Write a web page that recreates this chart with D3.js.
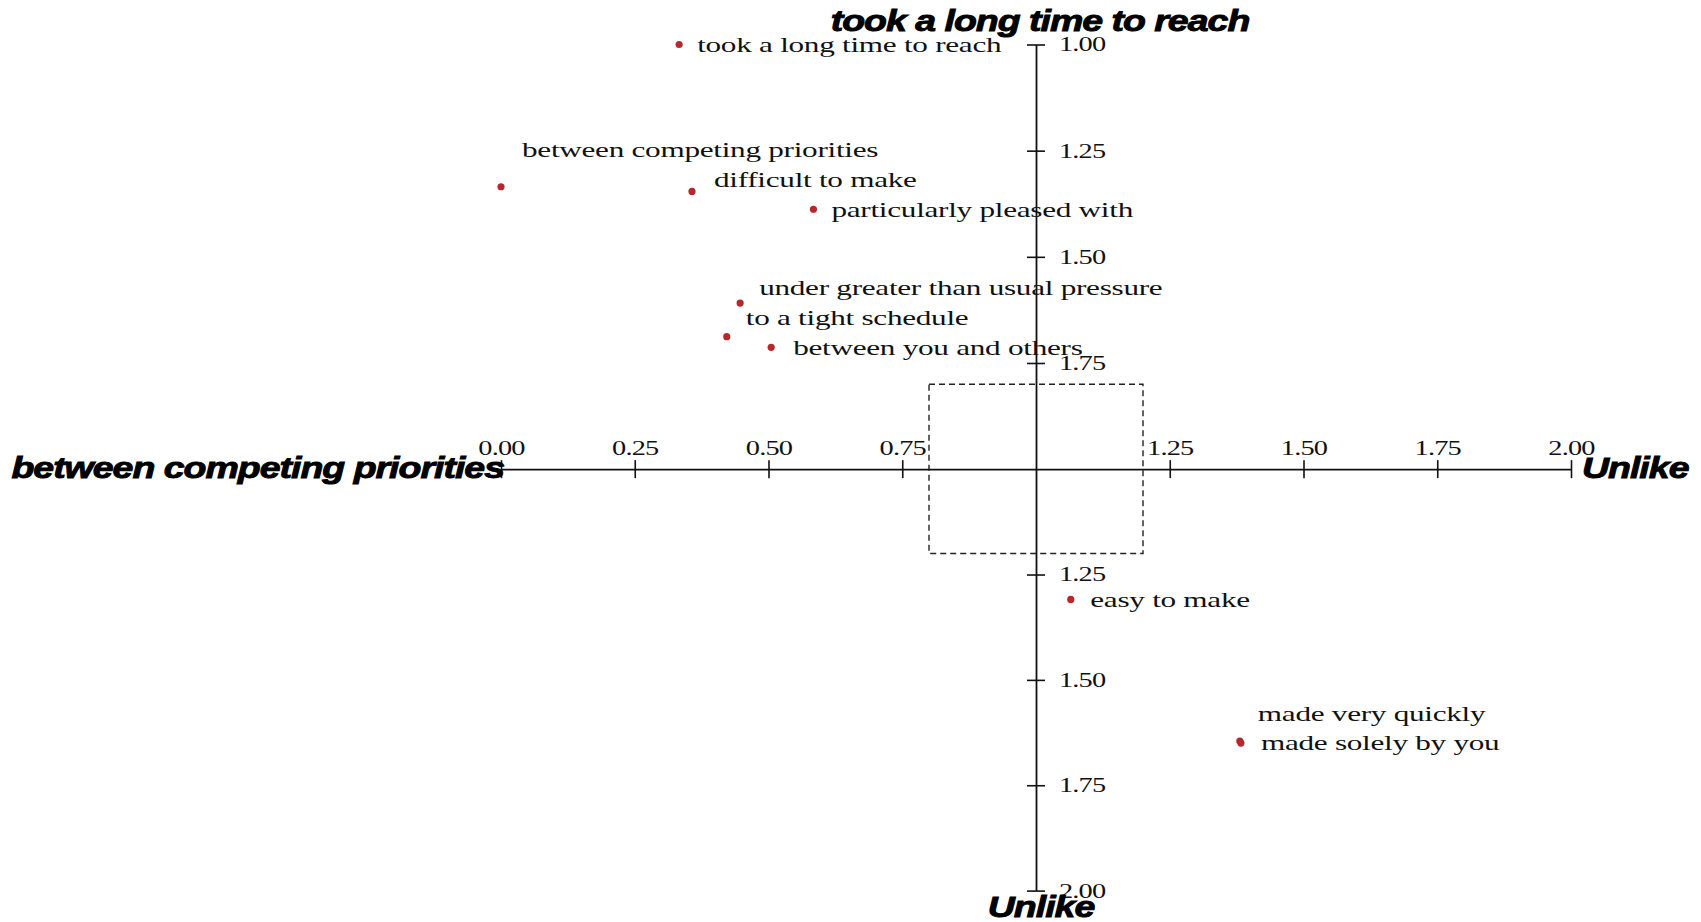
<!DOCTYPE html>
<html>
<head>
<meta charset="utf-8">
<script src="https://cdn.jsdelivr.net/npm/d3@7"></script>
<style>
  html, body { margin: 0; padding: 0; background: #fff; }
  svg { display: block; }
</style>
</head>
<body>
<svg id="chart" width="1701" height="922"></svg>
<script>
// ---- data -------------------------------------------------------------
const categories = [
  "took a long time to reach",
  "between competing priorities",
  "difficult to make",
  "particularly pleased with",
  "under greater than usual pressure",
  "to a tight schedule",
  "between you and others",
  "easy to make",
  "made very quickly",
  "made solely by you"
];
const xValues = [0.333, 0.00, 0.357, 0.584, 0.447, 0.422, 0.505, 1.065, 1.381, 1.383];
const yValues = [1.00, 1.335, 1.346, 1.388, 1.609, 1.688, 1.713, 1.309, 1.645, 1.650];
// which half of the vertical axis each item is measured on
const yHalf = ["top", "top", "top", "top", "top", "top", "top", "bottom", "bottom", "bottom"];

const xTickValues = [0, 0.25, 0.5, 0.75, 1, 1.25, 1.5, 1.75, 2];
const xTickLabels = ["0.00", "0.25", "0.50", "0.75", "", "1.25", "1.50", "1.75", "2.00"];
const yTopTickValues = [1, 1.25, 1.5, 1.75];
const yTopTickLabels = ["1.00", "1.25", "1.50", "1.75"];
const yBottomTickValues = [1.25, 1.5, 1.75, 2];
const yBottomTickLabels = ["1.25", "1.50", "1.75", "2.00"];

const poleTop = "took a long time to reach";
const poleBottom = "Unlike";
const poleLeft = "between competing priorities";
const poleRight = "Unlike";

// central neutral zone (x from..to, distance from centre on each vertical half)
const neutralX = [0.8, 1.2];
const neutralY = 1.2;

// ---- layout -----------------------------------------------------------
const W = 1701, H = 922;
const margin = { left: 501, right: 130, top: 44.5, bottom: 31.4 };
const stretch = 1.42;          // horizontal stretch of the serif labels
const labelFont = "'Liberation Serif', 'Times New Roman', serif";
const titleFont = "'Liberation Sans', Arial, sans-serif";
const dotColor = "#b5292d";

// label placement relative to each dot, in pixels
const labelOffsets = [
  [18, 0], [21, -37], [22, -12], [18, 0], [19, -15],
  [19, -18.5], [22, 0], [19.5, 0], [18, -27], [20, 0]
];

const svg = d3.select("#chart");
svg.append("rect").attr("width", W).attr("height", H).attr("fill", "#fff");

const x = d3.scaleLinear().domain([0, 2]).range([margin.left, W - margin.right]);
const yMid = (margin.top + (H - margin.bottom)) / 2 + 1.6;
const yTop = d3.scaleLinear().domain([1, 2]).range([margin.top, yMid]);
const yBottom = d3.scaleLinear().domain([1, 2]).range([yMid, H - margin.bottom]);
const yPos = (v, half) => half === "top" ? yTop(v) : yBottom(v);

const axisStroke = "#111";

// neutral zone box
svg.append("rect")
  .attr("x", x(neutralX[0]))
  .attr("y", yTop(2 - (neutralY - 1)))
  .attr("width", x(neutralX[1]) - x(neutralX[0]))
  .attr("height", yBottom(neutralY) - yTop(2 - (neutralY - 1)))
  .attr("fill", "none")
  .attr("stroke", "#222")
  .attr("stroke-width", 1.4)
  .attr("stroke-dasharray", "6,4");

// horizontal axis
const gx = svg.append("g")
  .attr("transform", `translate(0,${yMid})`)
  .call(d3.axisTop(x)
    .tickValues(xTickValues)
    .tickFormat((d, i) => xTickLabels[i])
    .tickSize(9)
    .tickSizeOuter(0)
    .tickPadding(5));
gx.select(".domain").attr("stroke", axisStroke).attr("stroke-width", 1.8);
gx.selectAll(".tick line").attr("y1", 9).attr("stroke", axisStroke).attr("stroke-width", 1.6)
  .filter((d, i) => xTickLabels[i] === "").remove();
gx.selectAll(".tick text")
  .attr("font-family", labelFont).attr("font-size", 20).attr("fill", "#111")
  .attr("letter-spacing", -0.6)
  .attr("transform", `scale(${stretch},1)`);

// vertical axis halves
function styleVertical(g) {
  g.select(".domain").attr("stroke", axisStroke).attr("stroke-width", 1.8);
  g.selectAll(".tick line").attr("x1", -9).attr("stroke", axisStroke).attr("stroke-width", 1.6);
  g.selectAll(".tick text")
    .attr("font-family", labelFont).attr("font-size", 20).attr("fill", "#111")
    .attr("letter-spacing", -0.6)
    .attr("x", 23 / stretch)
    .attr("transform", `scale(${stretch},1)`);
}
const gyTop = svg.append("g")
  .attr("transform", `translate(${x(1)},0)`)
  .call(d3.axisRight(yTop)
    .tickValues(yTopTickValues)
    .tickFormat((d, i) => yTopTickLabels[i])
    .tickSize(9).tickSizeOuter(0).tickPadding(14));
styleVertical(gyTop);

const gyBottom = svg.append("g")
  .attr("transform", `translate(${x(1)},0)`)
  .call(d3.axisRight(yBottom)
    .tickValues(yBottomTickValues)
    .tickFormat((d, i) => yBottomTickLabels[i])
    .tickSize(9).tickSizeOuter(0).tickPadding(14));
styleVertical(gyBottom);

// pole titles
function poleTitle(text, px, py, anchor) {
  svg.append("g")
    .attr("transform", `translate(${px},${py})`)
    .append("text")
    .attr("transform", "scale(1.25,1)")
    .attr("text-anchor", anchor)
    .attr("font-family", titleFont)
    .attr("font-weight", "bold")
    .attr("font-style", "italic")
    .attr("font-size", 30)
    .attr("letter-spacing", -0.8)
    .attr("fill", "#000")
    .attr("stroke", "#000")
    .attr("stroke-width", 0.9)
    .text(text);
}
poleTitle(poleTop, x(1) + 4, 31, "middle");
poleTitle(poleBottom, x(1) + 5, 916.5, "middle");
poleTitle(poleLeft, x(0) + 3, yMid + 8.5, "end");
poleTitle(poleRight, x(2) + 11, yMid + 8.5, "start");

// points and their labels
const items = categories.map((c, i) => ({
  name: c,
  cx: x(xValues[i]),
  cy: yPos(yValues[i], yHalf[i]),
  off: labelOffsets[i]
}));

svg.append("g").selectAll("circle")
  .data(items)
  .join("circle")
  .attr("cx", d => d.cx)
  .attr("cy", d => d.cy)
  .attr("r", 3.6)
  .attr("fill", dotColor);

svg.append("g").selectAll("g")
  .data(items)
  .join("g")
  .attr("transform", d => `translate(${d.cx + d.off[0]},${d.cy + d.off[1]})`)
  .append("text")
  .attr("transform", `scale(${stretch},1)`)
  .attr("dy", "0.33em")
  .attr("font-family", labelFont)
  .attr("font-size", 22)
  .attr("letter-spacing", -0.2)
  .attr("fill", "#111")
  .text(d => d.name);
</script>
</body>
</html>
